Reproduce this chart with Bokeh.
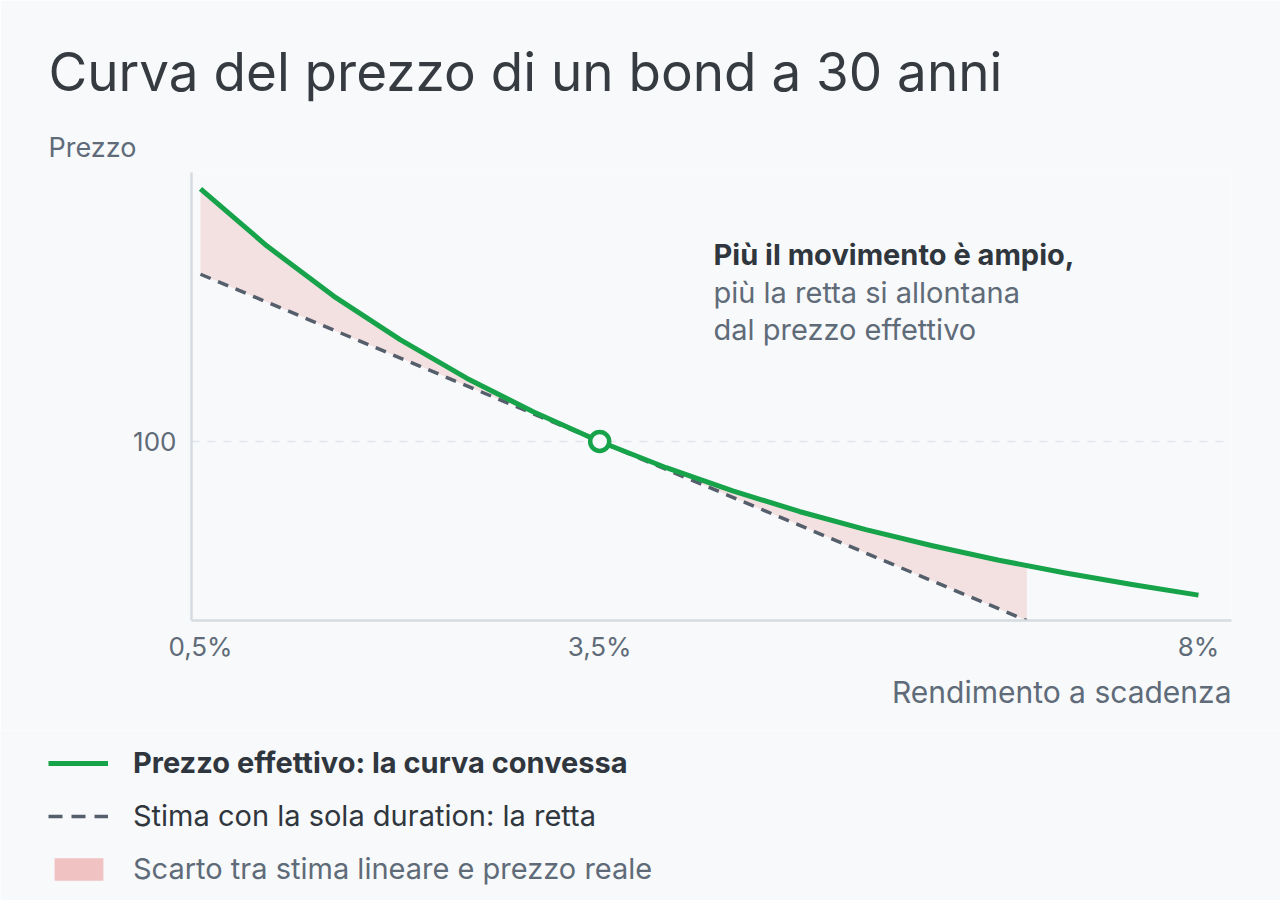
from bokeh.plotting import figure
from bokeh.models import Range1d, FixedTicker, Label, Legend, LegendItem, Title
from bokeh.layouts import column
from bokeh.embed import file_html
from bokeh.resources import INLINE

# rendimento (%) e prezzo effettivo del bond a 30 anni
rendimenti = [0.5, 1.0, 1.5, 2.0, 2.5, 3.0, 3.5, 4.0, 4.5, 5.0, 5.5, 6.0, 6.5, 7.0, 7.5, 8.0]
prezzi = [183.4, 164.5, 148.0, 133.6, 120.9, 109.8, 100.0, 91.35, 83.7, 76.9,
          70.9, 65.6, 60.8, 56.6, 52.8, 49.3]

# stima lineare con la sola duration
retta_x = [0.5, 6.71]
retta_y = [155.2, 40.9]

# area tra curva e retta
scarto_x = [0.5, 1.0, 1.5, 2.0, 2.5, 3.0, 3.5, 4.0, 4.5, 5.0, 5.5, 6.0, 6.5, 6.71]
scarto_alto = [183.4, 164.5, 148.0, 133.6, 120.9, 109.8, 100.0, 91.35, 83.7, 76.9,
               70.9, 65.6, 60.8, 59.0]
scarto_basso = [155.2, 146.0, 136.8, 127.6, 118.4, 109.2, 100.0, 90.8, 81.6, 72.4,
                63.2, 54.0, 44.8, 40.9]

punto_x = [3.5]
punto_y = [100]

tick_x = [0.5, 3.5, 8]
tick_x_lab = ["0,5%", "3,5%", "8%"]
tick_y = [100]

FONT = "Inter"
BG = "#f7f9fb"
VERDE = "#16a34a"
GRIGIO = "#555e6b"
TESTO = "#5f6b78"
SCURO = "#30363d"
ROSA = "#eebbbb"
NAN = float("nan")

p = figure(width=1280, height=730, output_backend="svg", toolbar_location=None,
           x_range=Range1d(0.4324, 8.248), y_range=Range1d(40.92, 188.78),
           background_fill_color=BG, border_fill_color=BG,
           min_border_left=191, min_border_right=49,
           min_border_top=172, min_border_bottom=110)
p.outline_line_color = None
p.frame_align = False

p.varea(x=scarto_x, y1=scarto_basso, y2=scarto_alto, fill_color=ROSA, fill_alpha=0.4)
p.line(retta_x, retta_y, line_color=GRIGIO, line_width=3.5, line_dash="11 8")
p.line(rendimenti, prezzi, line_color=VERDE, line_width=5, line_join="round")
p.scatter(punto_x, punto_y, size=19, fill_color=BG, line_color=VERDE, line_width=4.5)

# assi
for ax in (p.xaxis[0], p.yaxis[0]):
    ax.axis_line_color = "#d5dbe1"
    ax.axis_line_width = 2.5
    ax.major_tick_line_color = None
    ax.minor_tick_line_color = None
    ax.major_tick_out = 0
    ax.major_label_text_font = FONT
    ax.major_label_text_font_size = "26px"
    ax.major_label_text_color = TESTO

p.xaxis.ticker = FixedTicker(ticks=tick_x)
p.xaxis.major_label_overrides = dict(zip(tick_x, tick_x_lab))
p.xaxis.major_label_standoff = 10
p.yaxis.ticker = FixedTicker(ticks=tick_y)
p.yaxis.major_label_overrides = {100: "100"}
p.yaxis.major_label_standoff = 15

p.xgrid.visible = False
p.ygrid.ticker = FixedTicker(ticks=tick_y)
p.ygrid.grid_line_color = "#e2e6ea"
p.ygrid.grid_line_width = 1.5
p.ygrid.grid_line_dash = "8 8"

# testi fuori dal riquadro
p.add_layout(Title(text="Prezzo", align="left", offset=-143, standoff=17,
                   text_font=FONT, text_font_size="27px", text_color=TESTO,
                   text_font_style="normal"), "above")
p.add_layout(Title(text="Curva del prezzo di un bond a 30 anni", align="left",
                   offset=-143, standoff=33, text_font=FONT, text_font_size="53px",
                   text_color="#363b42", text_font_style="normal"), "above")
p.add_layout(Title(text="Rendimento a scadenza", align="right", offset=0, standoff=14,
                   text_font=FONT, text_font_size="30px", text_color=TESTO,
                   text_font_style="normal"), "below")

# nota dentro il grafico (unità schermo relative al riquadro)
nota = [("Più il movimento è ampio,", 366, SCURO, "bold"),
        ("più la retta si allontana", 328, TESTO, "normal"),
        ("dal prezzo effettivo", 291, TESTO, "normal")]
for t, yy, col, stile in nota:
    p.add_layout(Label(x=522, y=yy, x_units="screen", y_units="screen", text=t,
                       text_font=FONT, text_font_size="29px", text_color=col,
                       text_font_style=stile, text_baseline="alphabetic"))

# legenda in una figura a parte; i renderer hanno un solo punto vuoto (NaN)
q = figure(width=1280, height=170, output_backend="svg", toolbar_location=None,
           x_range=Range1d(0, 1), y_range=Range1d(0, 1),
           background_fill_color=BG, border_fill_color=BG, min_border=0)
q.outline_line_color = None
q.axis.visible = False
q.grid.visible = False
q.frame_align = False

l_curva = q.line(x=[NAN], y=[NAN], line_color=VERDE, line_width=5)
l_retta = q.line(x=[NAN], y=[NAN], line_color=GRIGIO, line_width=3.5, line_dash="14 9")
l_scarto = q.varea(x=[NAN], y1=[NAN], y2=[NAN], fill_color="#f0c2c2")

voci = [
    ("Prezzo effettivo: la curva convessa", l_curva, SCURO, "bold", 48, 120, 60, 30, 25),
    ("Stima con la sola duration: la retta", l_retta, SCURO, "normal", 48, 67, 60, 30, 25),
    ("Scarto tra stima lineare e prezzo reale", l_scarto, TESTO, "normal", 48, 14, 61, 28, 24),
]
for etichetta, r, col, stile, vx, vy, gw, gh, std in voci:
    q.add_layout(Legend(items=[LegendItem(label=etichetta, renderers=[r])],
                        location=(vx, vy), padding=0, margin=0, spacing=0,
                        glyph_width=gw, glyph_height=gh,
                        label_height=gh, label_standoff=std,
                        label_text_font=FONT, label_text_font_size="29px",
                        label_text_color=col, label_text_font_style=stile,
                        background_fill_alpha=0, border_line_alpha=0), "center")

open("out.html", "w").write(file_html(column(p, q), INLINE))
